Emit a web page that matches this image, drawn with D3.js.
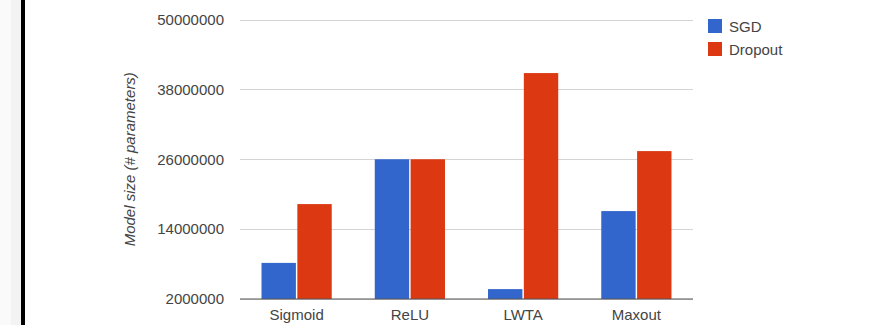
<!DOCTYPE html>
<html>
<head>
<meta charset="utf-8">
<script src="https://cdn.jsdelivr.net/npm/d3@7"></script>
<style>
  html, body { margin: 0; padding: 0; background: #fff; }
  svg { display: block; font-family: Arial, "Liberation Sans", sans-serif; }
</style>
</head>
<body>
<svg id="chart" width="895" height="325"></svg>
<script>
// Model size per activation, with plain SGD and with dropout
const categories = ["Sigmoid", "ReLU", "LWTA", "Maxout"];
const seriesNames = ["SGD", "Dropout"];
const sgdValues = [8200000, 26000000, 3700000, 17100000];
const dropoutValues = [18300000, 26000000, 40800000, 27400000];
const yTicks = [2000000, 14000000, 26000000, 38000000, 50000000];
const yTitle = "Model size (# parameters)";

const colors = { SGD: "#3366cc", Dropout: "#dc3912" };
const valuesBySeries = { SGD: sgdValues, Dropout: dropoutValues };

const svg = d3.select("#chart");

// page margin strip with dark rule on the left
svg.append("rect").attr("x", 0).attr("y", 0).attr("width", 11).attr("height", 325).attr("fill", "#fafafa");
svg.append("rect").attr("x", 11).attr("y", 0).attr("width", 10).attr("height", 325).attr("fill", "#f3f3f3");
svg.append("rect").attr("x", 21).attr("y", 0).attr("width", 4).attr("height", 325).attr("fill", "#000");

const plot = { left: 240, right: 693, top: 19.5, bottom: 299 };

const y = d3.scaleLinear()
  .domain([d3.min(yTicks), d3.max(yTicks)])
  .range([plot.bottom, plot.top]);

const x = d3.scaleBand()
  .domain(categories)
  .range([plot.left, plot.right])
  .paddingInner(0.38)
  .paddingOuter(0.19);

const xSub = d3.scaleBand()
  .domain(seriesNames)
  .range([0, x.bandwidth()])
  .paddingInner(0.04);

// gridlines
svg.append("g")
  .selectAll("line")
  .data(yTicks)
  .join("line")
  .attr("x1", plot.left)
  .attr("x2", plot.right)
  .attr("y1", d => Math.round(y(d)) + 0.5)
  .attr("y2", d => Math.round(y(d)) + 0.5)
  .attr("stroke", "#d4d4d4")
  .attr("stroke-width", 1);

// y axis labels
const yAxis = d3.axisLeft(y)
  .tickValues(yTicks)
  .tickFormat(d3.format("d"))
  .tickSize(0)
  .tickPadding(16);

const yG = svg.append("g")
  .attr("transform", `translate(${plot.left},0)`)
  .call(yAxis);
yG.select(".domain").remove();
yG.selectAll("text")
  .attr("fill", "#444")
  .style("font-size", "15px")
  .style("font-family", "Arial, 'Liberation Sans', sans-serif");

// y axis title
svg.append("text")
  .attr("transform", `translate(129,${(plot.top + plot.bottom) / 2}) rotate(-90)`)
  .attr("text-anchor", "middle")
  .attr("dominant-baseline", "central")
  .attr("font-style", "italic")
  .attr("font-size", 15)
  .attr("fill", "#444")
  .text(yTitle);

// bars
const groups = svg.append("g")
  .selectAll("g")
  .data(categories)
  .join("g")
  .attr("transform", d => `translate(${x(d)},0)`);

groups.selectAll("rect")
  .data((c, i) => seriesNames.map(s => ({ series: s, value: valuesBySeries[s][i] })))
  .join("rect")
  .attr("x", d => xSub(d.series))
  .attr("width", xSub.bandwidth())
  .attr("y", d => y(d.value))
  .attr("height", d => y(y.domain()[0]) - y(d.value))
  .attr("fill", d => colors[d.series]);

// baseline
svg.append("line")
  .attr("x1", plot.left)
  .attr("x2", plot.right)
  .attr("y1", plot.bottom)
  .attr("y2", plot.bottom)
  .attr("stroke", "#555")
  .attr("stroke-width", 1.2);

// x axis labels
const xAxis = d3.axisBottom(x).tickSize(0).tickPadding(10);
const xG = svg.append("g")
  .attr("transform", `translate(0,${plot.bottom})`)
  .call(xAxis);
xG.select(".domain").remove();
xG.selectAll("text")
  .attr("fill", "#444")
  .style("font-size", "15px")
  .style("font-family", "Arial, 'Liberation Sans', sans-serif");

// legend
const legend = svg.append("g")
  .selectAll("g")
  .data(seriesNames)
  .join("g")
  .attr("transform", (d, i) => `translate(708,${19 + i * 23})`);

legend.append("rect")
  .attr("width", 14)
  .attr("height", 14)
  .attr("fill", d => colors[d]);

legend.append("text")
  .attr("x", 21)
  .attr("y", 7.5)
  .attr("dominant-baseline", "central")
  .attr("font-size", 15)
  .attr("fill", "#444")
  .text(d => d);
</script>
</body>
</html>
